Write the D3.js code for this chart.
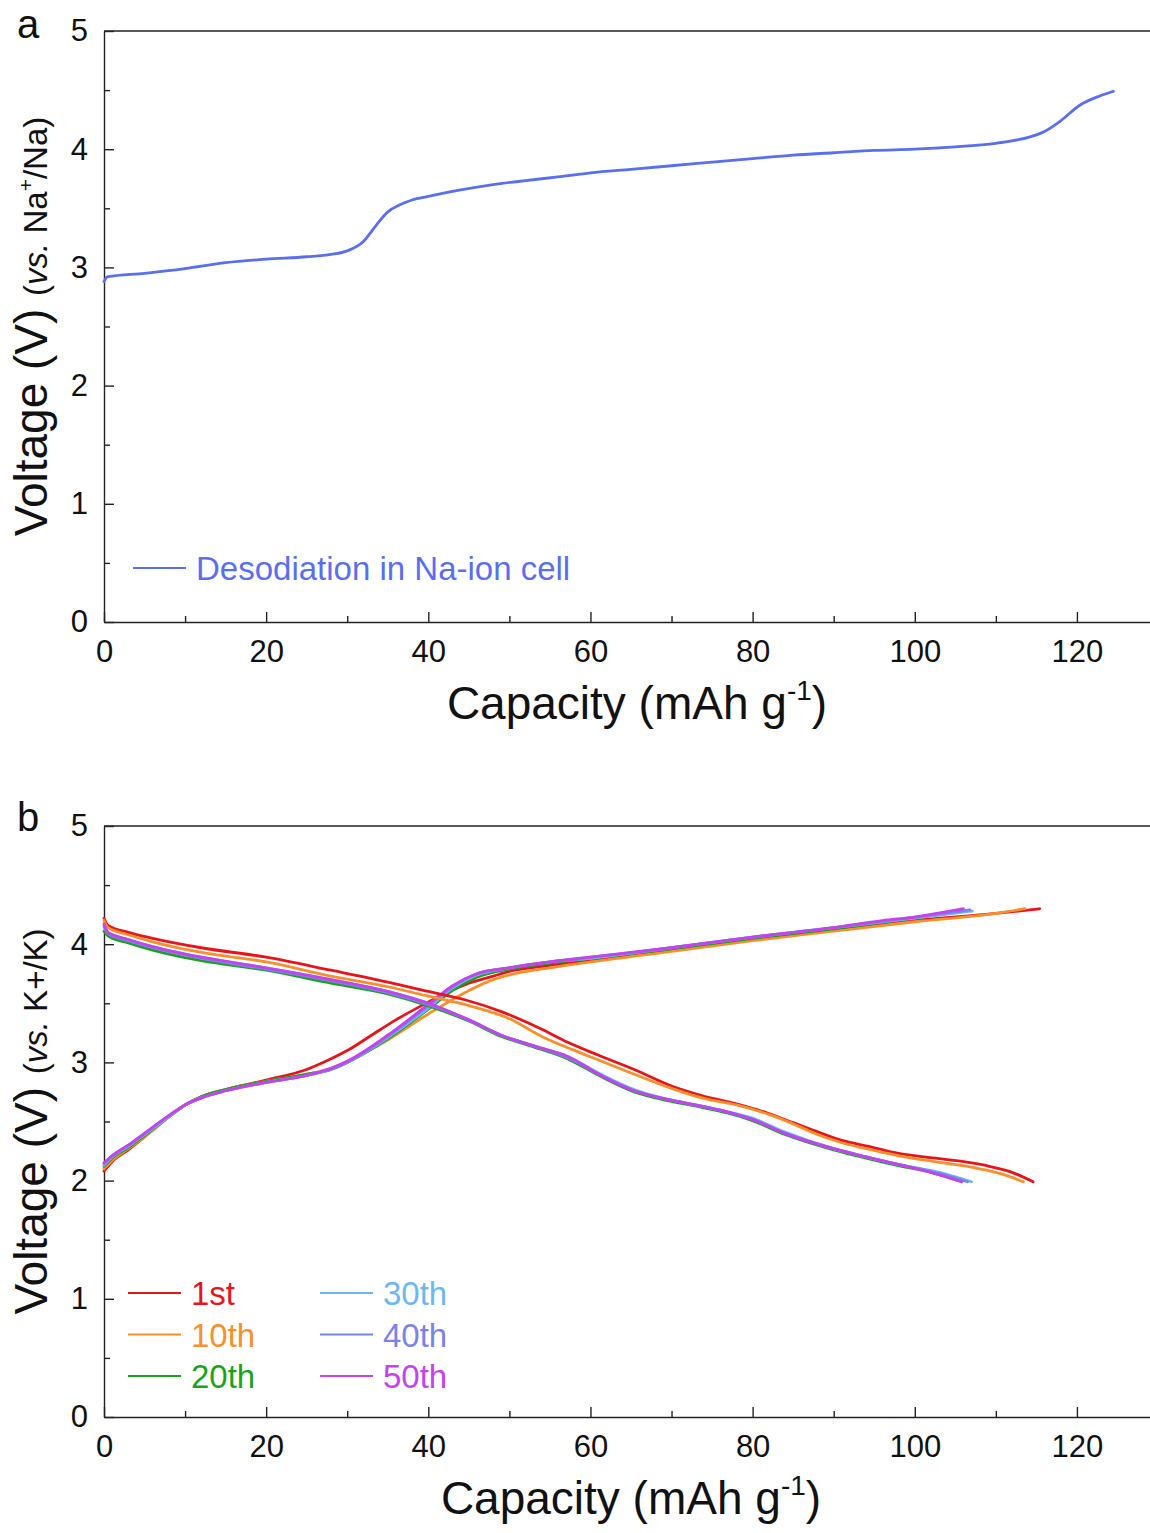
<!DOCTYPE html>
<html>
<head>
<meta charset="utf-8">
<script src="https://cdn.jsdelivr.net/npm/d3@7"></script>
<style>
    body { margin: 0; background: #fff; }
    svg { display: block; font-family: "Liberation Sans", Arial, sans-serif; }
    .axis path, .axis line { stroke: #222; stroke-width: 1.4px; }
    .axis text { fill: #111; font-size: 31px; font-family: "Liberation Sans", Arial, sans-serif; }
    .curve { fill: none; stroke-width: 2.8px; stroke-linecap: round; }
</style>
</head>
<body>
<svg id="fig" width="1150" height="1533"></svg>
<script>
// ---- data (capacity in mAh/g, voltage in V) ----
var xTicks = [0, 20, 40, 60, 80, 100, 120];
var yTicks = [0, 1, 2, 3, 4, 5];

// panel a
var desodiation = [[0, 2.88], [0.4, 2.92], [5, 2.95], [10, 2.99], [15, 3.04], [20, 3.07], [25, 3.09],
    [28, 3.11], [30, 3.14], [32, 3.22], [33.5, 3.35], [35, 3.47], [36.5, 3.53], [38, 3.57], [40, 3.60],
    [44, 3.655], [48, 3.70], [52, 3.735], [56, 3.765], [60, 3.80], [65, 3.83], [70, 3.86], [75, 3.89],
    [80, 3.92], [85, 3.95], [90, 3.97], [95, 3.99], [100, 4.00], [105, 4.02], [110, 4.05], [112, 4.07],
    [114, 4.10], [116, 4.15], [118, 4.24], [120.3, 4.37], [122.8, 4.45], [124.5, 4.49]];

// panel b, charge (rising) curves
var charge1st = [[0, 2.08], [1, 2.16], [3, 2.26], [5, 2.37], [8, 2.54], [10, 2.64], [12, 2.71], [15, 2.77],
    [20, 2.85], [25, 2.94], [28, 3.03], [30, 3.10], [33, 3.23], [36, 3.36], [40, 3.51], [42, 3.58], [45, 3.67],
    [48, 3.73], [50, 3.77], [55, 3.82], [60, 3.86], [70, 3.95], [80, 4.04], [90, 4.12], [100, 4.20],
    [110, 4.26], [115.4, 4.30]];
var charge10th = [[0, 2.10], [1, 2.17], [3, 2.27], [5, 2.37], [8, 2.54], [10, 2.64], [12, 2.71], [15, 2.77],
    [20, 2.84], [25, 2.90], [28, 2.95], [30, 3.01], [35, 3.19], [40, 3.41], [44.5, 3.59], [48, 3.70],
    [50, 3.74], [55, 3.80], [60, 3.85], [70, 3.94], [80, 4.03], [90, 4.11], [100, 4.19], [110, 4.26],
    [113.6, 4.30]];
var charge20th = [[0, 2.12], [1, 2.19], [3, 2.28], [5, 2.38], [8, 2.54], [10, 2.64], [12, 2.71], [15, 2.77],
    [20, 2.84], [25, 2.90], [28, 2.94], [30, 3.00], [35, 3.20], [40, 3.45], [43, 3.61], [46, 3.72],
    [50, 3.79], [55, 3.84], [60, 3.88], [70, 3.96], [80, 4.05], [90, 4.13], [100, 4.22], [106.2, 4.28]];
var charge30th = [[0, 2.13], [1, 2.20], [3, 2.29], [5, 2.39], [8, 2.54], [10, 2.64], [12, 2.70], [15, 2.76],
    [20, 2.83], [25, 2.89], [28, 2.94], [30, 3.00], [35, 3.21], [40, 3.46], [43, 3.63], [46, 3.74],
    [50, 3.80], [55, 3.85], [60, 3.88], [70, 3.97], [80, 4.06], [90, 4.14], [100, 4.22], [107.1, 4.28]];
var charge40th = [[0, 2.14], [1, 2.21], [3, 2.30], [5, 2.40], [8, 2.55], [10, 2.64], [12, 2.70], [15, 2.76],
    [20, 2.83], [25, 2.89], [28, 2.94], [30, 3.00], [35, 3.22], [40, 3.48], [43, 3.64], [46, 3.75],
    [50, 3.80], [55, 3.85], [60, 3.89], [70, 3.97], [80, 4.06], [90, 4.14], [100, 4.23], [106.8, 4.29]];
var charge50th = [[0, 2.15], [1, 2.21], [3, 2.30], [5, 2.40], [8, 2.55], [10, 2.64], [12, 2.70], [15, 2.76],
    [20, 2.83], [25, 2.89], [28, 2.95], [30, 3.01], [35, 3.23], [40, 3.49], [43, 3.65], [46, 3.75],
    [50, 3.80], [55, 3.85], [60, 3.89], [70, 3.97], [80, 4.06], [90, 4.14], [96, 4.20], [100, 4.23],
    [106, 4.30]];

// panel b, discharge (falling) curves
var discharge1st = [[0, 4.22], [0.5, 4.16], [3, 4.10], [6, 4.05], [12, 3.97], [20, 3.89], [28, 3.78],
    [35, 3.68], [40, 3.60], [44.5, 3.53], [49, 3.43], [54, 3.28], [57.2, 3.17], [61, 3.06], [65.4, 2.94],
    [70, 2.80], [73.7, 2.72], [78, 2.65], [81.9, 2.57], [85, 2.49], [88.1, 2.41], [91, 2.34], [94.3, 2.29],
    [98, 2.23], [102.5, 2.19], [108.6, 2.13], [112, 2.07], [114.6, 1.99]];
var discharge10th = [[0, 4.20], [0.5, 4.14], [3, 4.08], [6, 4.02], [12, 3.93], [20, 3.85], [28, 3.73],
    [35, 3.64], [40, 3.56], [45, 3.48], [50, 3.37], [54, 3.22], [57.7, 3.11], [61, 3.02], [65.4, 2.90],
    [70, 2.78], [73.7, 2.70], [78, 2.64], [82, 2.56], [85, 2.48], [88, 2.39], [91, 2.32], [94, 2.27],
    [98, 2.21], [102.5, 2.16], [108, 2.10], [111, 2.05], [113.4, 1.99]];
var discharge20th = [[0, 4.11], [0.5, 4.07], [3, 4.01], [6, 3.95], [12, 3.86], [20, 3.78], [28, 3.67],
    [35, 3.58], [40.4, 3.47], [45, 3.35], [49, 3.22], [53, 3.13], [57.2, 3.03], [61.3, 2.88], [65.4, 2.75],
    [70, 2.67], [73.7, 2.62], [77, 2.57], [79.9, 2.51], [84, 2.39], [90, 2.26], [94, 2.19], [98.4, 2.12],
    [102, 2.07], [105.8, 1.99]];
var discharge30th = [[0, 4.16], [0.5, 4.10], [3, 4.04], [6, 3.98], [12, 3.89], [20, 3.80], [28, 3.70],
    [35, 3.60], [40.4, 3.49], [45, 3.36], [49, 3.23], [53, 3.14], [57.2, 3.05], [61.3, 2.90], [65.4, 2.77],
    [70, 2.68], [73.7, 2.63], [77, 2.58], [79.9, 2.53], [84, 2.41], [90, 2.27], [94, 2.20], [98.4, 2.13],
    [103, 2.07], [107, 1.99]];
var discharge40th = [[0, 4.15], [0.5, 4.09], [3, 4.03], [6, 3.97], [12, 3.88], [20, 3.79], [28, 3.69],
    [35, 3.59], [40.4, 3.48], [45, 3.36], [49, 3.23], [53, 3.14], [57.2, 3.04], [61.3, 2.89], [65.4, 2.76],
    [70, 2.68], [73.7, 2.63], [77, 2.58], [79.9, 2.52], [84, 2.40], [90, 2.27], [94, 2.20], [98.4, 2.13],
    [102.5, 2.07], [106.5, 1.99]];
var discharge50th = [[0, 4.17], [0.5, 4.10], [3, 4.04], [6, 3.98], [12, 3.89], [20, 3.80], [28, 3.70],
    [35, 3.60], [40.4, 3.49], [45, 3.36], [49, 3.23], [53, 3.14], [57.2, 3.05], [61.3, 2.89], [65.4, 2.76],
    [70, 2.68], [73.7, 2.63], [77, 2.58], [79.9, 2.52], [84, 2.40], [90, 2.27], [94, 2.20], [98.4, 2.13],
    [102, 2.07], [105.8, 1.99]];

var cycleNames = ["1st", "10th", "20th", "30th", "40th", "50th"];
var chargeCurves = [charge1st, charge10th, charge20th, charge30th, charge40th, charge50th];
var dischargeCurves = [discharge1st, discharge10th, discharge20th, discharge30th, discharge40th, discharge50th];
var cycleColors = ["#e8141c", "#f7902a", "#1aa31a", "#6cb8ee", "#7884ea", "#c443ee"];
var naColor = "#5a6ff0";

var svg = d3.select("#fig");
var left = 104, right = 1158;

/**
 * axes, frame line and titles for one panel
 */
function createPanel(top, bottom, titleX, letter, refText, refSup, refTail) {
    var x = d3.scaleLinear().domain([0, 130]).range([left, right]);
    var y = d3.scaleLinear().domain([0, 5]).range([bottom, top]);

    // top frame line
    svg.append("line")
        .attr("x1", left).attr("x2", 1150)
        .attr("y1", top).attr("y2", top)
        .attr("stroke", "#222").attr("stroke-width", 1.4);

    // minor ticks
    svg.append("g")
        .attr("class", "axis")
        .attr("transform", "translate(0," + bottom + ")")
        .call(d3.axisBottom(x).tickValues(xTicks.map(function (d) { return d + 10; })).tickSize(-6).tickFormat(""))
        .select(".domain").remove();
    svg.append("g")
        .attr("class", "axis")
        .attr("transform", "translate(" + left + ",0)")
        .call(d3.axisLeft(y).tickValues(yTicks.slice(0, -1).map(function (d) { return d + 0.5; })).tickSize(-6).tickFormat(""))
        .select(".domain").remove();

    // major ticks
    svg.append("g")
        .attr("class", "axis")
        .attr("transform", "translate(0," + bottom + ")")
        .call(d3.axisBottom(x).tickValues(xTicks).tickFormat(d3.format("d")).tickSize(-10).tickSizeOuter(0).tickPadding(18));
    svg.append("g")
        .attr("class", "axis")
        .attr("transform", "translate(" + left + ",0)")
        .call(d3.axisLeft(y).tickValues(yTicks).tickFormat(d3.format("d")).tickSize(-10).tickSizeOuter(0).tickPadding(16));

    // x title
    var xt = svg.append("text")
        .attr("x", titleX).attr("y", bottom + 97)
        .attr("text-anchor", "middle")
        .attr("font-size", 46).attr("fill", "#111");
    xt.append("tspan").text("Capacity (mAh g");
    xt.append("tspan").attr("font-size", 28).attr("dy", -19).text("-1");
    xt.append("tspan").attr("dy", 19).text(")");

    // y title
    var yt = svg.append("text")
        .attr("transform", "translate(47," + (top + (bottom - top) * 0.5) + ") rotate(-90)")
        .attr("text-anchor", "middle")
        .attr("fill", "#111");
    yt.append("tspan").attr("font-size", 46).text("Voltage (V) ");
    yt.append("tspan").attr("font-size", 33).text("(");
    yt.append("tspan").attr("font-size", 33).attr("font-style", "italic").text("vs.");
    yt.append("tspan").attr("font-size", 33).text(refText);
    if (refSup) {
        yt.append("tspan").attr("font-size", 21).attr("dy", -14).text(refSup);
        yt.append("tspan").attr("font-size", 33).attr("dy", 14).text(refTail);
    }

    // panel letter
    svg.append("text")
        .attr("x", 17).attr("y", top + 7 - (letter === "b" ? 2 : 0))
        .attr("font-size", 40).attr("fill", "#111")
        .text(letter);

    return {x: x, y: y};
}

function drawCurve(sc, data, color) {
    var line = d3.line()
        .curve(d3.curveMonotoneX)
        .x(function (d) { return sc.x(d[0]); })
        .y(function (d) { return sc.y(d[1]); });
    svg.append("path")
        .datum(data)
        .attr("class", "curve")
        .attr("stroke", color)
        .attr("d", line);
}

function legendItem(x0, y0, label, color) {
    svg.append("line")
        .attr("x1", x0).attr("x2", x0 + 53)
        .attr("y1", y0).attr("y2", y0)
        .attr("stroke", color).attr("stroke-width", 2);
    svg.append("text")
        .attr("x", x0 + 63).attr("y", y0 + 12)
        .attr("font-size", 33).attr("fill", color)
        .text(label);
}

// ---- panel a ----
var scA = createPanel(31, 622, 637, "a", " Na", "+", "/Na)");
drawCurve(scA, desodiation, naColor);
legendItem(133, 568, "Desodiation in Na-ion cell", naColor);

// ---- panel b ----
var scB = createPanel(826, 1417, 631, "b", " K+/K)", null, null);
chargeCurves.forEach(function (c, i) { drawCurve(scB, c, cycleColors[i]); });
dischargeCurves.forEach(function (c, i) { drawCurve(scB, c, cycleColors[i]); });
cycleNames.forEach(function (n, i) {
    legendItem(i < 3 ? 128 : 320, 1293 + (i % 3) * 41.5, n, cycleColors[i]);
});
</script>
</body>
</html>
